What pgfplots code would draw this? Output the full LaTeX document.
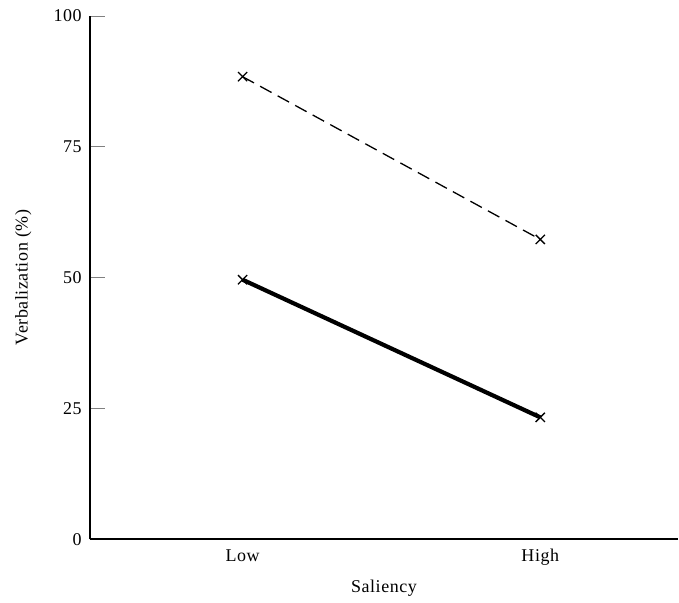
\documentclass[border=0pt]{standalone}
\usepackage{fontspec}
\setmainfont{Liberation Serif}[LetterSpace=3]
\usepackage{pgfplots}
\pgfplotsset{compat=1.18}

\begin{document}
\fontsize{18bp}{22bp}\selectfont
\begin{tikzpicture}
  \begin{axis}[
      scale only axis,
      width=589bp,
      height=524bp,
      axis lines*=left,
      axis line style={line width=1.8bp},
      xmin=0.487, xmax=2.463,
      ymin=0, ymax=100,
      xtick={1,2},
      xticklabels={Low,High},
      ytick={0,25,50,75,100},
      tick align=inside,
      ytick style={line width=0.8bp},
      major tick length=15bp,
      xtick style={draw=none},
      xticklabel style={yshift=-4bp},
      yticklabel style={xshift=-2bp},
      xlabel={Saliency},
      ylabel={Verbalization (\%)},
      xlabel style={yshift=-2bp},
      ylabel style={yshift=10bp},
      /pgf/number format/assume math mode=true,
      clip=false,
    ]
    \addplot[black, line width=1.3bp, dash pattern=on 13bp off 7bp,
             mark=x, mark size=6.5bp, mark options={solid, line width=1.3bp}]
      coordinates {(1,88.4) (2,57.3)};
    \addplot[black, line width=4.2bp,
             mark=x, mark size=6.5bp, mark options={line width=1.3bp}]
      coordinates {(1,49.6) (2,23.3)};
  \end{axis}
  \path (current axis.origin) ++(-90bp,-63bp) coordinate (bbA);
  \path (current axis.origin) ++(589bp,540bp) coordinate (bbB);
  \path (bbA) rectangle (bbB);
\end{tikzpicture}
\end{document}
